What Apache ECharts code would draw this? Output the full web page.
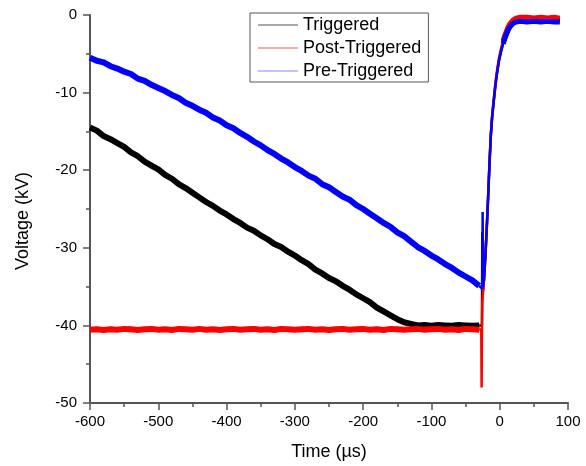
<!DOCTYPE html>
<html>
<head>
<meta charset="utf-8">
<script src="https://cdn.jsdelivr.net/npm/echarts@6/dist/echarts.min.js"></script>
<style>html,body{margin:0;padding:0;background:#fff;}#c{width:586px;height:466px;}</style>
</head>
<body>
<div id="c"></div>
<script>
const seriesNames = ['Triggered', 'Post-Triggered', 'Pre-Triggered'];
const xTicks = [-600, -500, -400, -300, -200, -100, 0, 100];
const yTicks = [-50, -40, -30, -20, -10, 0];

// Slow section, time in microseconds
const tSlow = [-600,-590,-580,-570,-560,-550,-540,-530,-520,-510,-500,-490,-480,-470,-460,-450,-440,-430,-420,-410,-400,-390,-380,-370,-360,-350,-340,-330,-320,-310,-300,-290,-280,-270,-260,-250,-240,-230,-220,-210,-200,-190,-180,-170,-160,-150,-140,-130,-120,-110,-100,-90,-80,-70,-60,-50,-40,-30];
const triggeredSlow = [-14.5,-14.9,-15.6,-16.0,-16.5,-17.0,-17.7,-18.2,-18.9,-19.4,-19.9,-20.6,-21.1,-21.8,-22.3,-22.9,-23.5,-24.1,-24.6,-25.2,-25.7,-26.3,-26.8,-27.4,-27.8,-28.4,-28.9,-29.5,-29.9,-30.5,-31.0,-31.6,-32.1,-32.8,-33.3,-33.9,-34.3,-34.9,-35.4,-36.0,-36.5,-37.0,-37.7,-38.2,-38.7,-39.2,-39.6,-39.8,-40.0,-39.95,-40.05,-39.95,-40.0,-40.05,-39.95,-40.0,-40.05,-40.0];
const postSlow = [-40.55,-40.5,-40.6,-40.5,-40.55,-40.45,-40.5,-40.6,-40.5,-40.45,-40.55,-40.5,-40.6,-40.45,-40.5,-40.55,-40.45,-40.55,-40.5,-40.6,-40.5,-40.45,-40.55,-40.5,-40.45,-40.55,-40.5,-40.6,-40.45,-40.5,-40.55,-40.5,-40.45,-40.55,-40.5,-40.6,-40.5,-40.45,-40.55,-40.5,-40.45,-40.55,-40.5,-40.6,-40.45,-40.5,-40.55,-40.5,-40.45,-40.55,-40.5,-40.45,-40.55,-40.5,-40.6,-40.45,-40.5,-40.55];
const preSlow = [-5.5,-5.9,-6.1,-6.6,-6.9,-7.3,-7.6,-8.2,-8.5,-9.0,-9.4,-9.8,-10.3,-10.7,-11.3,-11.7,-12.2,-12.6,-13.2,-13.6,-14.2,-14.6,-15.2,-15.7,-16.3,-16.8,-17.4,-17.9,-18.5,-19.0,-19.6,-20.1,-20.7,-21.1,-21.8,-22.2,-22.8,-23.4,-23.8,-24.5,-25.0,-25.6,-26.2,-26.8,-27.3,-28.0,-28.5,-29.2,-29.9,-30.4,-31.0,-31.5,-32.1,-32.6,-33.2,-33.7,-34.2,-34.9];

// Fast section (trigger and recovery)
const tRiseTrig = [-30,-26,-25.5,-25,-23,-21,-19,-17,-15,-13,-11,-9,-7,-5,-3,-1,2,5,8,12,15,19];
const triggeredRise = [-40.0,-40.0,-28.0,-36.0,-34.2,-31.2,-27.6,-23.6,-19.3,-15.6,-13.1,-11.4,-9.7,-8.2,-7.0,-5.9,-4.7,-3.7,-2.9,-2.0,-1.5,-1.1];
const tRisePost = [-30,-27,-26.5,-26,-25.5,-23,-21,-19,-17,-15,-13,-11,-9,-7,-5,-3,-1,2,5,8,12,15,19];
const postRise = [-40.55,-40.5,-48.0,-40.0,-37.0,-34.0,-31.0,-27.4,-23.4,-19.0,-15.3,-12.8,-11.0,-9.3,-7.8,-6.6,-5.5,-4.3,-3.3,-2.5,-1.6,-1.1,-0.7];
const tRisePre = [-30,-25.5,-25,-24.5,-23,-21,-19,-17,-15,-13,-11,-9,-7,-5,-3,-1,2,5,8,12,15,19];
const preRise = [-34.9,-35.3,-25.4,-35.0,-34.0,-31.0,-27.5,-23.5,-19.2,-15.5,-13.0,-11.3,-9.6,-8.1,-6.9,-5.8,-4.6,-3.6,-2.8,-1.9,-1.5,-1.1];

// Recovered plateau
const tTail = [5,8,12,15,19,24,30,40,50,60,70,80,88];
const triggeredTail = [-3.7,-2.9,-2.0,-1.5,-1.1,-0.8,-0.6,-0.6,-0.7,-0.6,-0.7,-0.6,-0.7];
const postTail = [-3.3,-2.5,-1.6,-1.1,-0.7,-0.4,-0.3,-0.3,-0.4,-0.3,-0.4,-0.3,-0.4];
const preTail = [-3.6,-2.8,-1.9,-1.5,-1.1,-0.9,-0.8,-0.9,-0.8,-0.9,-0.8,-0.9,-0.9];

function pairs(t, v) { return t.map((x, i) => [x, v[i]]); }

const font = 'Arial, "Liberation Sans", sans-serif';
const axisCol = '#555';
const colors = ['#000000', '#ff0000', '#0000ff'];
const parts = [
  [pairs(tSlow, triggeredSlow), pairs(tRiseTrig, triggeredRise), pairs(tTail, triggeredTail)],
  [pairs(tSlow, postSlow), pairs(tRisePost, postRise), pairs(tTail, postTail)],
  [pairs(tSlow, preSlow), pairs(tRisePre, preRise), pairs(tTail, preTail)]
];
const widths = [6, 2.5, 5];
const series = [];
parts.forEach((segs, si) => {
  segs.forEach((d, k) => {
    series.push({ name: seriesNames[si], type: 'line', data: d, showSymbol: false, symbol: 'none',
      color: colors[si], lineStyle: { color: colors[si], width: widths[k] }, z: 2 + si });
  });
});

const chart = echarts.init(document.getElementById('c'));
chart.setOption({
  animation: false,
  backgroundColor: '#fff',
  grid: { left: 90, right: 18, top: 15, bottom: 62, containLabel: false },
  legend: {
    orient: 'vertical',
    left: 250, top: 13,
    width: 180,
    padding: [3, 7, 2, 8],
    itemGap: 5,
    itemWidth: 40, itemHeight: 1,
    borderColor: '#555', borderWidth: 1,
    icon: 'rect',
    textStyle: { fontFamily: font, fontSize: 18, color: '#000' },
    data: [
      { name: seriesNames[0], itemStyle: { color: '#555' } },
      { name: seriesNames[1], itemStyle: { color: '#f55' } },
      { name: seriesNames[2], itemStyle: { color: '#88f' } }
    ]
  },
  xAxis: {
    type: 'value', min: -600, max: 100, interval: 100,
    name: 'Time (\u00b5s)', nameLocation: 'middle', nameGap: 40,
    nameTextStyle: { fontFamily: font, fontSize: 18, color: '#000' },
    axisLine: { show: true, onZero: false, lineStyle: { color: axisCol, width: 2 } },
    axisTick: { show: true, inside: false, length: 7, lineStyle: { color: axisCol, width: 1.5 } },
    minorTick: { show: true, splitNumber: 2, length: 4, lineStyle: { color: axisCol, width: 1.5 } },
    splitLine: { show: false },
    axisLabel: { margin: 11, fontFamily: font, fontSize: 15, color: '#000',
      formatter: v => xTicks.includes(v) ? String(v) : '' }
  },
  yAxis: {
    type: 'value', min: -50, max: 0, interval: 10,
    name: 'Voltage (kV)', nameLocation: 'middle', nameGap: 58,
    nameTextStyle: { fontFamily: font, fontSize: 18, color: '#000', padding: [0, 24, 0, 0] },
    axisLine: { show: true, onZero: false, lineStyle: { color: axisCol, width: 2 } },
    axisTick: { show: true, inside: false, length: 7, lineStyle: { color: axisCol, width: 1.5 } },
    minorTick: { show: true, splitNumber: 2, length: 4, lineStyle: { color: axisCol, width: 1.5 } },
    splitLine: { show: false },
    axisLabel: { margin: 13, fontFamily: font, fontSize: 15, color: '#000',
      formatter: v => yTicks.includes(v) ? String(v) : '' }
  },
  series: series
});
</script>
</body>
</html>
